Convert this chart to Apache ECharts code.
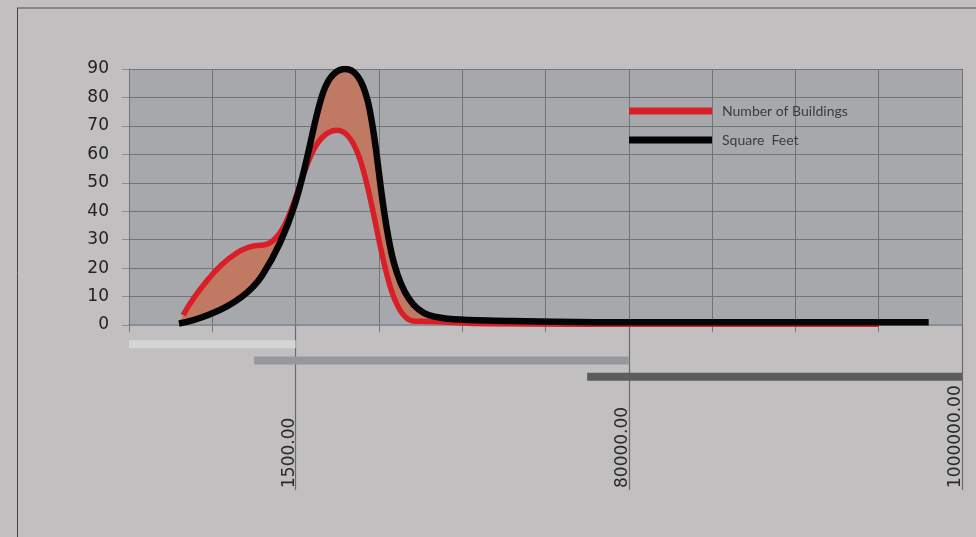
<!DOCTYPE html>
<html>
<head>
<meta charset="utf-8">
<script src="https://cdn.jsdelivr.net/npm/echarts@6/dist/echarts.min.js"></script>
<style>
html, body { margin: 0; padding: 0; background: #c1bfc0; }
#chart { width: 976px; height: 537px; }
</style>
</head>
<body>
<div id="chart"></div>
<script>
// Number of Buildings (red line)
let buildingsX = [0.65, 1.58, 2.5, 3.43, 4.36, 5.29, 6.22, 7.14, 8.07, 9.0];
let buildings = [3.5, 28, 68.5, 1.3, 0.4, 0.3, 0.3, 0.3, 0.3, 0.3];
// Square Feet (black line)
let sqftX = [0.6, 1.6, 2.6, 3.6, 4.6, 5.6, 6.6, 7.6, 8.6, 9.6];
let sqft = [0.5, 17.5, 90, 3.5, 1.4, 1, 1, 1, 1, 1];
// long ticks + rotated labels under the plot
let tickValues = [2, 6, 10];
let tickLabels = ['1500.00', '80000.00', '1000000.00'];
// the three range bars under the axis
let rangeStart = [0, 1.5, 5.5];
let rangeEnd = [2, 6, 10];
let rangeColors = ['#d4d5d7', '#97989b', '#5b5c5e'];

let redPts = buildingsX.map((x, i) => [x, buildings[i]]);
let blackPts = sqftX.map((x, i) => [x, sqft[i]]);

// same smoothing as echarts line, sampled so the fill follows the drawn lines
function smoothSample(pts, smooth, monotoneX) {
    let out = [pts[0].slice()];
    let cpx0 = pts[0][0], cpy0 = pts[0][1];
    for (let k = 1; k < pts.length; k++) {
        let px = pts[k - 1][0], py = pts[k - 1][1];
        let x = pts[k][0], y = pts[k][1];
        let cpx1 = x, cpy1 = y, ncx = x, ncy = y;
        if (k < pts.length - 1) {
            let nx = pts[k + 1][0], ny = pts[k + 1][1];
            let vx = nx - px, vy = ny - py;
            if (monotoneX) {
                let dir = vx > 0 ? 1 : -1;
                cpx1 = x - dir * Math.abs(x - px) * smooth;
                cpy1 = y;
                ncx = x + dir * Math.abs(nx - x) * smooth;
                ncy = y;
            } else {
                let lp = Math.hypot(x - px, y - py);
                let ln = Math.hypot(nx - x, ny - y);
                let r = ln / (ln + lp);
                ncx = x + vx * smooth * r;
                ncy = y + vy * smooth * r;
                ncx = Math.max(Math.min(ncx, Math.max(nx, x)), Math.min(nx, x));
                ncy = Math.max(Math.min(ncy, Math.max(ny, y)), Math.min(ny, y));
                vx = ncx - x; vy = ncy - y;
                cpx1 = x - vx * lp / ln;
                cpy1 = y - vy * lp / ln;
                cpx1 = Math.max(Math.min(cpx1, Math.max(px, x)), Math.min(px, x));
                cpy1 = Math.max(Math.min(cpy1, Math.max(py, y)), Math.min(py, y));
                vx = x - cpx1; vy = y - cpy1;
                ncx = x + vx * ln / lp;
                ncy = y + vy * ln / lp;
            }
        }
        for (let s = 1; s <= 24; s++) {
            let t = s / 24, u = 1 - t;
            out.push([
                u * u * u * px + 3 * u * u * t * cpx0 + 3 * u * t * t * cpx1 + t * t * t * x,
                u * u * u * py + 3 * u * u * t * cpy0 + 3 * u * t * t * cpy1 + t * t * t * y
            ]);
        }
        cpx0 = ncx; cpy0 = ncy;
    }
    return out;
}

let myChart = echarts.init(document.getElementById('chart'));

let option = {
    backgroundColor: '#c1bfc0',
    animation: false,
    textStyle: { fontFamily: 'DejaVu Sans' },
    graphic: [
        { type: 'line', shape: { x1: 17, y1: 8, x2: 976, y2: 8 }, style: { stroke: '#747474', lineWidth: 1.3 } },
        { type: 'line', shape: { x1: 17.5, y1: 8, x2: 17.5, y2: 537 }, style: { stroke: '#454545', lineWidth: 1 } }
    ],
    legend: [
        {
            data: ['Number of Buildings'], left: 629, top: 103, padding: 0,
            icon: 'rect', itemWidth: 83, itemHeight: 7,
            textStyle: { fontFamily: 'Lato', fontSize: 14, color: '#3c3c3c', lineHeight: 16, padding: [0, 0, 0, 5] }
        },
        {
            data: ['Square  Feet'], left: 629, top: 132, padding: 0,
            icon: 'rect', itemWidth: 83, itemHeight: 7,
            textStyle: { fontFamily: 'Lato', fontSize: 14, color: '#3c3c3c', lineHeight: 16, padding: [0, 0, 0, 5] }
        }
    ],
    grid: [
        { left: 129, top: 69, width: 833, height: 256, show: true, backgroundColor: '#a7a8ab', borderWidth: 0 },
        { left: 129, top: 336, width: 833, height: 49 }
    ],
    xAxis: [
        {
            type: 'value', gridIndex: 0, min: 0, max: 10, interval: 1,
            axisLine: { show: true, lineStyle: { color: '#8c8d90', width: 2 } },
            axisTick: { show: true, length: 7, lineStyle: { color: '#76777a' } },
            axisLabel: { show: false },
            splitLine: { show: true, lineStyle: { color: '#737477', width: 1 } }
        },
        {
            type: 'value', gridIndex: 0, min: 0, max: 10, position: 'bottom',
            axisLine: { show: false },
            axisTick: { show: true, customValues: tickValues, length: 165, lineStyle: { color: '#6a6b6e', width: 1.2 } },
            axisLabel: {
                show: true, customValues: tickValues, rotate: 90, margin: 163,
                align: 'left', verticalAlign: 'bottom',
                fontSize: 17, color: '#2a2a2a', lineHeight: 13,
                formatter: function (v) { return tickLabels[tickValues.indexOf(v)]; }
            },
            splitLine: { show: false }
        },
        {
            type: 'value', gridIndex: 1, min: 0, max: 10, show: false
        }
    ],
    yAxis: [
        {
            type: 'value', gridIndex: 0, min: 0, max: 90, interval: 10,
            axisLine: { show: true, lineStyle: { color: '#737477' } },
            axisTick: { show: true, length: 7, lineStyle: { color: '#8c8d90' } },
            axisLabel: { fontSize: 17, color: '#222222', margin: 20 },
            splitLine: { show: true, lineStyle: { color: '#737477', width: 1 } }
        },
        {
            type: 'category', gridIndex: 1, data: ['r1', 'r2', 'r3'], inverse: true, show: false
        }
    ],
    series: [
        {
            name: 'fill', type: 'custom', xAxisIndex: 0, yAxisIndex: 0, z: 1, silent: true,
            data: [[0, 0]],
            renderItem: function (params, api) {
                let red = smoothSample(redPts.map(p => api.coord(p)), 0.5, true);
                let black = smoothSample(blackPts.map(p => api.coord(p)), 0.5, false);
                return {
                    type: 'polygon',
                    shape: { points: red.concat(black.reverse()) },
                    style: { fill: '#c07a64' }
                };
            }
        },
        {
            name: 'Number of Buildings', type: 'line', xAxisIndex: 0, yAxisIndex: 0, z: 3,
            data: redPts, smooth: true, smoothMonotone: 'x', showSymbol: false,
            itemStyle: { color: '#d81f27' },
            lineStyle: { color: '#d81f27', width: 5.5 }
        },
        {
            name: 'Square  Feet', type: 'line', xAxisIndex: 0, yAxisIndex: 0, z: 4,
            data: blackPts, smooth: true, showSymbol: false,
            itemStyle: { color: '#050505' },
            lineStyle: { color: '#050505', width: 6.5 }
        },
        {
            name: 'rangeBase', type: 'bar', xAxisIndex: 2, yAxisIndex: 1, stack: 'range',
            barWidth: 8, silent: true,
            itemStyle: { color: 'rgba(0,0,0,0)' },
            data: rangeStart
        },
        {
            name: 'range', type: 'bar', xAxisIndex: 2, yAxisIndex: 1, stack: 'range',
            barWidth: 8, silent: true,
            data: rangeEnd.map((e, i) => ({ value: e - rangeStart[i], itemStyle: { color: rangeColors[i] } }))
        }
    ]
};

myChart.setOption(option);
</script>
</body>
</html>
